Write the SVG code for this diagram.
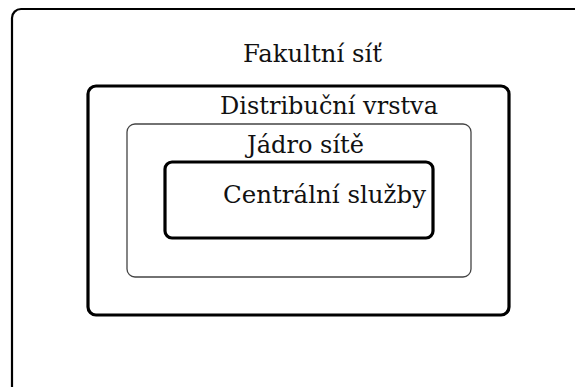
<svg xmlns="http://www.w3.org/2000/svg" width="575" height="387" viewBox="0 0 575 387">
  <style>
    .box { fill: none; stroke: #000; }
    .thick { stroke-width: 3.2; }
    .thin { stroke-width: 1.3; stroke: #444; }
    .outer { stroke-width: 2.2; }
    .label { font-family: "DejaVu Serif", "Liberation Serif", serif; font-size: 24.5px; fill: #111; }
  </style>
  <rect width="575" height="387" fill="#fff"/>
  <g id="fakultni-sit">
    <rect class="box outer" x="12" y="9" width="620" height="420" rx="9"/>
    <text class="label" x="243" y="62" textLength="139" lengthAdjust="spacingAndGlyphs">Fakultní síť</text>
  </g>
  <g id="distribucni-vrstva">
    <rect class="box thick" x="88" y="86" width="421" height="229" rx="8"/>
    <text class="label" x="220" y="114" textLength="218" lengthAdjust="spacingAndGlyphs">Distribuční vrstva</text>
  </g>
  <g id="jadro-site">
    <rect class="box thin" x="127" y="124" width="344" height="153" rx="8"/>
    <text class="label" x="247" y="153" textLength="117" lengthAdjust="spacingAndGlyphs">Jádro sítě</text>
  </g>
  <g id="centralni-sluzby">
    <rect class="box thick" x="165" y="162" width="268" height="76" rx="7"/>
    <text class="label" x="223" y="203" textLength="203" lengthAdjust="spacingAndGlyphs">Centrální služby</text>
  </g>
  <g id="connectors"/>
</svg>
